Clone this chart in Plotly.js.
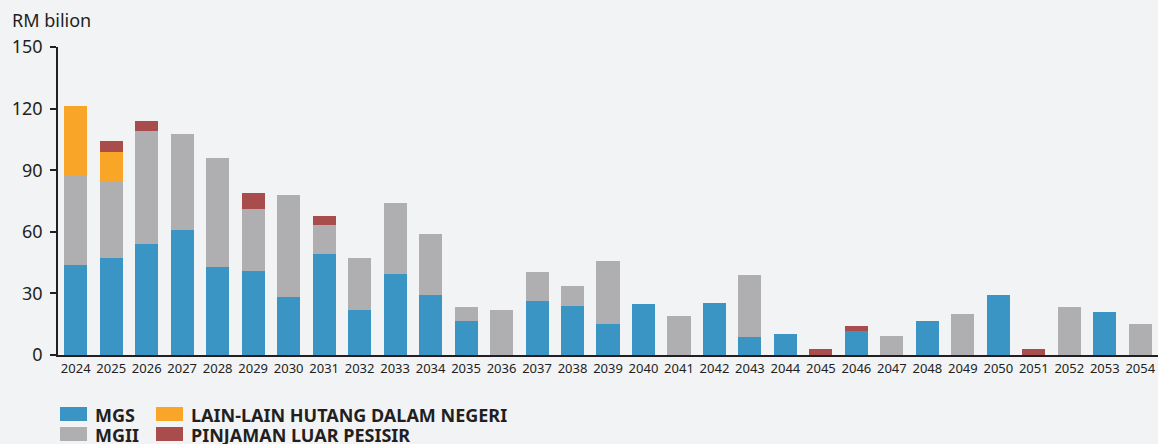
<!DOCTYPE html>
<html>
<head>
<meta charset="utf-8">
<script src="https://cdn.plot.ly/plotly-3.0.1.min.js"></script>
<style>html,body{margin:0;padding:0;background:#f2f3f5;}#chart{width:1158px;height:444px;}</style>
</head>
<body>
<div id="chart"></div>
<script>
const years = ["2024","2025","2026","2027","2028","2029","2030","2031","2032","2033","2034","2035","2036","2037","2038","2039","2040","2041","2042","2043","2044","2045","2046","2047","2048","2049","2050","2051","2052","2053","2054"];
const mgs =      [43.8,47.2,54.0,60.8,42.8,40.9,28.2,49.1,21.9,39.4,29.2,16.5,0,26.3,23.8,15.1,24.8,0,25.3,8.8,10.2,0,11.7,0,16.5,0,29.2,0,0,20.9,0];
const mgii =     [43.8,37.1,55.0,46.7,53.1,30.1,49.7,14.2,25.3,34.6,29.7,6.9,21.9,14.1,9.8,30.6,0,19.0,0,30.1,0,0,0,9.2,0,20.0,0,0,23.4,0,15.1];
const lainLain = [33.6,14.5,0,0,0,0,0,0,0,0,0,0,0,0,0,0,0,0,0,0,0,0,0,0,0,0,0,0,0,0,0];
const pinjaman = [0,5.3,4.9,0,0,7.8,0,4.3,0,0,0,0,0,0,0,0,0,0,0,0,0,2.9,2.4,0,0,0,0,2.9,0,0,0];
const yTicks = [0,30,60,90,120,150];

const names = ["MGS","MGII","LAIN-LAIN HUTANG DALAM NEGERI","PINJAMAN LUAR PESISIR"];
const colors = ["#3b95c4","#afaeb1","#f9a528","#a94d4c"];
const series = [mgs, mgii, lainLain, pinjaman];

const traces = series.map((vals,i)=>({
  type:"bar", x:years, y:vals, name:names[i],
  marker:{color:colors[i], line:{width:0}},
  hoverinfo:"x+y+name", showlegend:false
}));

// legend drawn as swatches + text (plot area: x 58..1158 px, y 47..355 px)
const L = 58, W = 1100, B = 355, H = 308;
const px = v => (v - L) / W, py = v => (B - v) / H;
const legendPos = [ {x:60, y:407}, {x:60, y:427}, {x:156, y:407}, {x:156, y:427} ];
const shapes = legendPos.map((p,i)=>({
  type:"rect", xref:"paper", yref:"paper", x0:px(p.x), x1:px(p.x+27), y0:py(p.y), y1:py(p.y+14),
  fillcolor:colors[i], line:{width:0}, layer:"above"
}));
const annotations = legendPos.map((p,i)=>({
  text:names[i], xref:"paper", yref:"paper", x:px(p.x+33), y:py(p.y+7.5),
  xanchor:"left", yanchor:"middle", showarrow:false,
  font:{family:"Noto Sans, Open Sans, sans-serif", size:18, color:"#231f20", weight:"bold"}
}));
annotations.push({text:"RM bilion", xref:"paper", yref:"paper", x:px(10), y:py(20),
  xanchor:"left", yanchor:"middle", showarrow:false, font:{size:18, color:"#231f20"}});

const layout = {
  width:1158, height:444,
  paper_bgcolor:"#f2f3f5", plot_bgcolor:"#f2f3f5",
  margin:{l:58, r:0, t:47, b:89, autoexpand:false},
  barmode:"stack", bargap:0.35, showlegend:false,
  font:{family:"Noto Sans, Open Sans, sans-serif", color:"#231f20"},
  xaxis:{type:"category", showgrid:false, zeroline:false, showline:true, linecolor:"#231f20", linewidth:2,
         ticks:"", tickfont:{size:13, color:"#231f20"}, tickangle:0, fixedrange:true, automargin:false},
  yaxis:{range:[0,150], tickvals:yTicks, showgrid:false, zeroline:false, showline:true, linecolor:"#231f20", linewidth:1.5,
         ticks:"outside", ticklen:6, tickwidth:1.5, tickcolor:"#231f20", ticklabelstandoff:4,
         tickfont:{size:18, color:"#231f20"}, fixedrange:true, automargin:false},
  shapes:shapes, annotations:annotations
};
Plotly.newPlot("chart", traces, layout, {displayModeBar:false});
</script>
</body>
</html>
